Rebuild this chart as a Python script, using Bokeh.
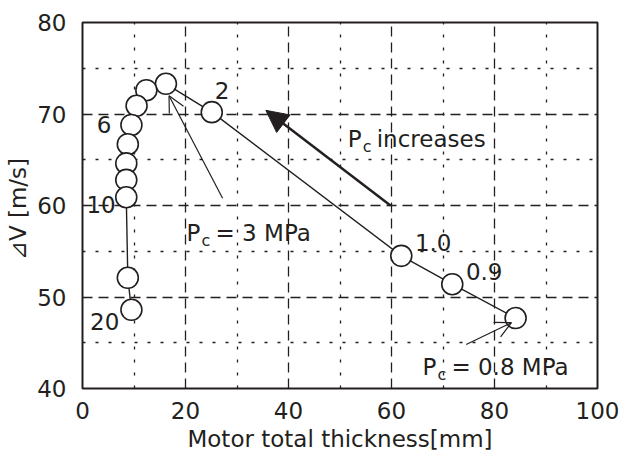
from bokeh.plotting import figure
from bokeh.models import (ColumnDataSource, FixedTicker, Range1d, Arrow, NormalHead, OpenHead)
from bokeh.embed import file_html
from bokeh.resources import INLINE
from bokeh.core.properties import value

# ---- data ----
pc_values = ["0.8", "0.9", "1.0", "2", "3", "4", "5", "6", "7", "8", "9", "10", "15", "20"]
thickness = [84.1, 71.8, 61.9, 25.1, 16.2, 12.4, 10.5, 9.5, 8.8, 8.5, 8.5, 8.5, 8.8, 9.5]
delta_v = [47.7, 51.4, 54.5, 70.2, 73.3, 72.6, 70.9, 68.8, 66.7, 64.6, 62.8, 60.9, 52.1, 48.6]

point_label_text = ["2", "6", "10", "20", "1.0", "0.9"]
point_label_x = [27.1, 4.2, 3.6, 4.3, 68.1, 78.0]
point_label_y = [72.6, 68.9, 60.1, 47.3, 56.0, 52.8]

pc_note_rest = [" increases", " = 3 MPa", " = 0.8 MPa"]
pc_note_x = [51.5, 20.2, 66.0]
pc_note_y = [67.3, 57.0, 42.4]

x_ticks = [0, 20, 40, 60, 80, 100]
x_minor = [10, 30, 50, 70, 90]
y_ticks = [40, 50, 60, 70, 80]
y_minor = [45, 55, 65, 75]

INK = "#231f20"
FONT = "DejaVu Sans"

p = figure(width=621, height=459, output_backend="svg", toolbar_location=None,
           x_range=Range1d(0, 100), y_range=Range1d(40, 80),
           min_border_left=82, min_border_right=24, min_border_top=22, min_border_bottom=71)
p.background_fill_color = "white"
p.border_fill_color = "white"
p.outline_line_color = INK
p.outline_line_width = 2

for ax, ticks, minor in ((p.xaxis[0], x_ticks, x_minor), (p.yaxis[0], y_ticks, y_minor)):
    ax.ticker = FixedTicker(ticks=ticks, minor_ticks=minor)
    ax.axis_line_color = None
    ax.major_tick_line_color = None
    ax.minor_tick_line_color = None
    ax.major_label_text_font = FONT
    ax.major_label_text_font_size = "23px"
    ax.major_label_text_color = INK
    ax.axis_label_text_font = FONT
    ax.axis_label_text_font_size = "23px"
    ax.axis_label_text_font_style = "normal"
    ax.axis_label_text_color = INK

p.xaxis.axis_label = "Motor total thickness[mm]"
p.yaxis.axis_label = "⊿V  [m/s]"
p.xaxis.major_label_standoff = 7
p.yaxis.major_label_standoff = 10
p.xaxis.axis_label_standoff = 4
p.yaxis.axis_label_standoff = 3

for g in (p.xgrid[0], p.ygrid[0]):
    g.grid_line_color = INK
    g.grid_line_dash = "10 6"
    g.grid_line_width = 1.3
    g.minor_grid_line_color = INK
    g.minor_grid_line_dash = "3 10"
    g.minor_grid_line_width = 1.3

src = ColumnDataSource(dict(x=thickness, y=delta_v, pc=pc_values))
p.line("x", "y", source=src, line_color=INK, line_width=1.4)
p.scatter("x", "y", source=src, size=21, fill_color="white", line_color=INK, line_width=1.6)

lab = ColumnDataSource(dict(x=point_label_x, y=point_label_y, t=point_label_text))
p.text("x", "y", text="t", source=lab, text_font=value(FONT), text_font_size="23px",
       text_color=INK, text_align="center", text_baseline="middle")

notes = ColumnDataSource(dict(x=pc_note_x, y=pc_note_y, rest=pc_note_rest,
                              P=["P"] * 3, c=["c"] * 3))
p.text("x", "y", text="P", source=notes, text_font=value(FONT), text_font_size="23px",
       text_color=INK, text_align="left", text_baseline="middle")
p.text("x", "y", text="c", source=notes, text_font=value(FONT), text_font_size="16px",
       text_color=INK, text_align="left", text_baseline="middle", x_offset=15, y_offset=8)
p.text("x", "y", text="rest", source=notes, text_font=value(FONT), text_font_size="23px",
       text_color=INK, text_align="left", text_baseline="middle", x_offset=29)

# arrows
p.add_layout(Arrow(x_start=59.8, y_start=60.0, x_end=35.6, y_end=70.4,
                   line_color=INK, line_width=2.5,
                   end=NormalHead(size=22, fill_color=INK, line_color=INK)))
p.add_layout(Arrow(x_start=27.2, y_start=60.8, x_end=16.8, y_end=72.0,
                   line_color=INK, line_width=1.2,
                   end=OpenHead(size=16, line_color=INK, line_width=1.2)))
p.add_layout(Arrow(x_start=74.5, y_start=44.8, x_end=83.3, y_end=47.2,
                   line_color=INK, line_width=1.2,
                   end=OpenHead(size=16, line_color=INK, line_width=1.2)))

open("out.html", "w").write(file_html(p, INLINE))
